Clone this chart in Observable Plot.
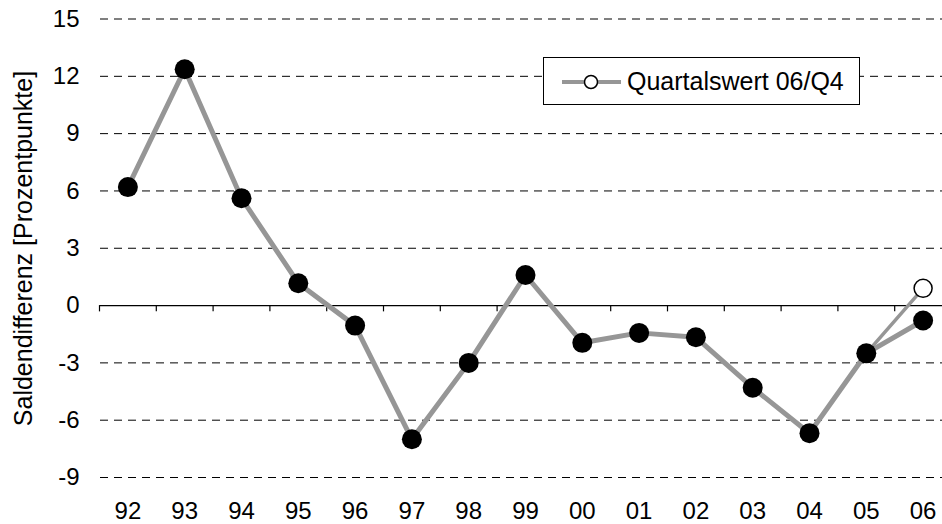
<!DOCTYPE html>
<html>
<head>
<meta charset="utf-8">
<script src="https://cdn.jsdelivr.net/npm/d3@7"></script>
<script src="https://cdn.jsdelivr.net/npm/@observablehq/plot@0.6"></script>
<style>
  html, body { margin: 0; padding: 0; background: #fff; overflow: hidden; }
  #wrap { position: relative; width: 942px; height: 524px; font-family: "Liberation Sans", Arial, sans-serif; }
  #wrap svg g[aria-label*="axis"] text,
  #wrap svg g[aria-label*="axis"] { font-size: 24px !important; }
  #legend { position: absolute; left: 543px; top: 57px; width: 317px; height: 48px; border: 1px solid #000; background: #fff; box-sizing: border-box; }
  #legend svg { position: absolute; left: 0; top: 0; }
  #legend span { position: absolute; left: 83px; top: 9px; font-size: 25px; line-height: 28px; color: #000; white-space: nowrap; }
</style>
</head>
<body>
<div id="wrap"></div>
<script>
const years = ["92","93","94","95","96","97","98","99","00","01","02","03","04","05","06"];
const values = [6.2, 12.37, 5.62, 1.17, -1.05, -7.0, -3.0, 1.6, -1.95, -1.43, -1.66, -4.3, -6.68, -2.5, -0.78];
const quarterLabel = "Quartalswert 06/Q4";
const quarterValue = 0.9;
const yTicks = [15, 12, 9, 6, 3, 0, -3, -6, -9];
const yLabel = "Saldendifferenz [Prozentpunkte]";

const gray = "#969696";
const n = years.length;
const pts = values.map((v, i) => ({x: i + 0.5, y: v, label: years[i]}));
const quarterLine = [
  {x: n - 1.5, y: values[n - 2]},
  {x: n - 0.5, y: quarterValue}
];
const bounds = d3.range(0, n + 1);

const chart = Plot.plot({
  width: 942,
  height: 524,
  marginLeft: 100,
  marginRight: 0,
  marginTop: 0,
  marginBottom: 30,
  style: {fontSize: "24px", fontFamily: "'Liberation Sans', Arial, sans-serif", color: "#000", background: "#fff"},
  x: {type: "linear", domain: [0, n], range: [99, 951]},
  y: {domain: [-9, 15], range: [477, 18.5]},
  marks: [
    Plot.ruleY(yTicks.filter(d => d !== 0), {y: d => d, stroke: "#000", strokeWidth: 1, strokeDasharray: "8,6"}),
    Plot.ruleY([0], {stroke: "#000", strokeWidth: 1.2}),
    Plot.ruleX(bounds.filter(b => b < n), {x: d => d, y1: 0, y2: -0.33, stroke: "#000", strokeWidth: 1.2}),
    Plot.axisY({ticks: yTicks, tickSize: 0, tickPadding: 21, tickFormat: d => String(d), label: null, fontSize: 24}),
    Plot.axisX({ticks: pts.map(d => d.x), tickSize: 0, tickPadding: 7, tickFormat: (d) => years[Math.round(d - 0.5)], label: null, fontSize: 24}),
    Plot.text([yLabel], {text: d => d, frameAnchor: "left", textAnchor: "middle", lineAnchor: "middle", rotate: -90, dx: -77, dy: 1, fontSize: 25}),
    Plot.line(quarterLine, {x: "x", y: "y", stroke: gray, strokeWidth: 3.5}),
    Plot.line(pts, {x: "x", y: "y", stroke: gray, strokeWidth: 5}),
    Plot.dot(pts, {x: "x", y: "y", r: 10, fill: "#000", stroke: "none"}),
    Plot.dot(quarterLine.slice(1), {x: "x", y: "y", r: 9, fill: "#fff", stroke: "#000", strokeWidth: 1.5})
  ]
});

const wrap = document.getElementById("wrap");
wrap.appendChild(chart);

const legend = document.createElement("div");
legend.id = "legend";
legend.innerHTML = `<svg width="317" height="48">
  <line x1="18" y1="24" x2="77" y2="24" stroke="${gray}" stroke-width="4"/>
  <circle cx="47" cy="24" r="6.5" fill="#fff" stroke="#000" stroke-width="1.5"/>
</svg><span>${quarterLabel}</span>`;
wrap.appendChild(legend);
</script>
</body>
</html>
